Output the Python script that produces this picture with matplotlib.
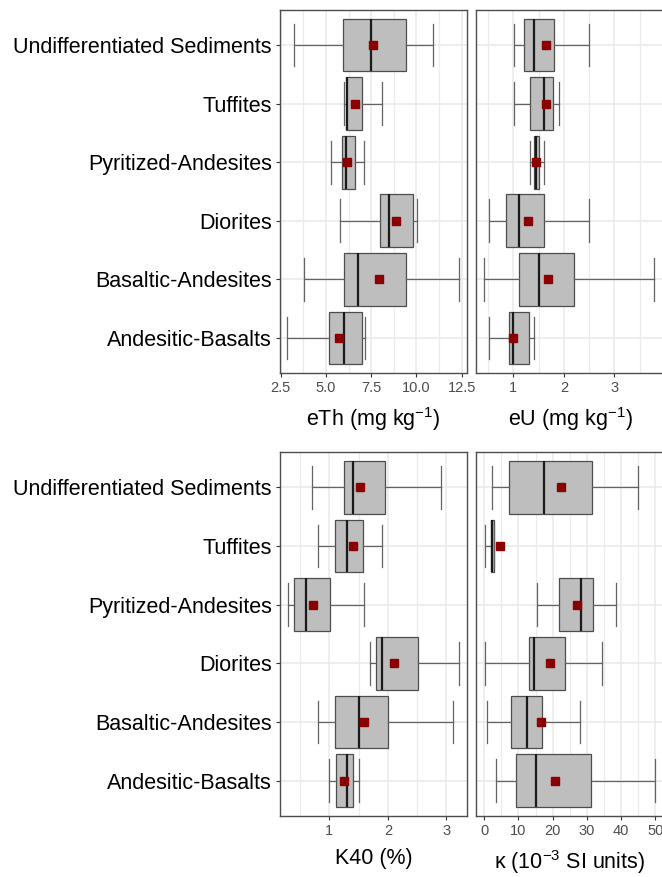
import numpy as np
import matplotlib
matplotlib.use("Agg")
import matplotlib.pyplot as plt

plt.rcParams['font.family'] = ['Liberation Sans', 'DejaVu Sans']
plt.rcParams['mathtext.fontset'] = 'custom'
plt.rcParams['mathtext.rm'] = 'Liberation Sans'
plt.rcParams['mathtext.it'] = 'Liberation Sans:italic'
plt.rcParams['mathtext.default'] = 'regular'

# categories, listed top to bottom as in the picture
categories = ['Undifferentiated Sediments', 'Tuffites', 'Pyritized-Andesites',
              'Diorites', 'Basaltic-Andesites', 'Andesitic-Basalts']

# eTh (mg/kg)
eth_lo   = [3.26, 5.98, 5.28, 5.78, 3.76, 2.87]
eth_q1   = [5.92, 6.11, 5.87, 7.98, 5.98, 5.18]
eth_med  = [7.50, 6.17, 6.09, 8.48, 6.78, 5.99]
eth_mean = [7.59, 6.61, 6.17, 8.87, 7.94, 5.70]
eth_q3   = [9.42, 6.98, 6.61, 9.79, 9.42, 6.98]
eth_hi   = [10.94, 8.09, 7.09, 10.02, 12.35, 7.18]

# eU (mg/kg)
eu_lo   = [1.01, 1.01, 1.32, 0.52, 0.42, 0.51]
eu_q1   = [1.20, 1.33, 1.40, 0.86, 1.11, 0.91]
eu_med  = [1.40, 1.61, 1.44, 1.11, 1.51, 1.00]
eu_mean = [1.65, 1.64, 1.44, 1.28, 1.68, 1.00]
eu_q3   = [1.81, 1.79, 1.51, 1.61, 2.20, 1.30]
eu_hi   = [2.50, 1.90, 1.60, 2.50, 3.79, 1.41]

# K40 (%)
k_lo   = [0.70, 0.80, 0.30, 1.70, 0.80, 1.00]
k_q1   = [1.25, 1.10, 0.40, 1.80, 1.10, 1.11]
k_med  = [1.40, 1.30, 0.60, 1.90, 1.50, 1.30]
k_mean = [1.53, 1.41, 0.72, 2.10, 1.60, 1.26]
k_q3   = [1.95, 1.58, 1.01, 2.51, 2.01, 1.40]
k_hi   = [2.91, 1.90, 1.60, 3.21, 3.11, 1.50]

# magnetic susceptibility (10^-3 SI)
ms_lo   = [2.35, 0.1, 15.3, 0.1, 0.7, 3.4]
ms_q1   = [7.3, 1.9, 21.9, 13.0, 7.9, 9.4]
ms_med  = [17.6, 2.35, 28.2, 14.4, 12.5, 15.2]
ms_mean = [22.3, 4.6, 27.1, 19.2, 16.7, 20.8]
ms_q3   = [31.6, 2.9, 31.9, 23.6, 16.8, 31.2]
ms_hi   = [44.8, 3.0, 38.6, 34.4, 28.0, 50.0]

W, H = 662, 877
fig = plt.figure(figsize=(W / 100, H / 100), dpi=100)


def panel(x0, x1, y0, y1):
    return fig.add_axes([x0 / W, 1 - y1 / H, (x1 - x0) / W, (y1 - y0) / H])


def draw(ax, lo, q1, med, mean, q3, hi, xlim, majors, minors, xlabel, ticklabels, show_y):
    n = len(categories)
    pos = np.arange(n, 0, -1)
    stats = []
    for i in range(n):
        stats.append(dict(whislo=lo[i], q1=q1[i], med=med[i], mean=mean[i],
                          q3=q3[i], whishi=hi[i], fliers=[]))
    ax.bxp(stats, positions=pos, vert=False, widths=0.9, capwidths=0.73,
           patch_artist=True, showmeans=True, manage_ticks=False,
           boxprops=dict(facecolor='#bebebe', edgecolor='#4d4d4d', linewidth=0.9),
           whiskerprops=dict(color='#636363', linewidth=0.9),
           capprops=dict(color='#636363', linewidth=0.9),
           medianprops=dict(color='#1a1a1a', linewidth=1.6),
           meanprops=dict(marker='s', markerfacecolor='#8b0000',
                          markeredgecolor='#8b0000', markersize=5.6),
           zorder=3)
    ax.set_xlim(*xlim)
    ax.set_ylim(0.4, n + 0.6)
    ax.set_xticks(majors)
    ax.set_xticklabels(ticklabels)
    ax.set_xticks(minors, minor=True)
    ax.set_yticks(pos)
    ax.grid(which='major', color='#ebebeb', linewidth=1.2, zorder=0)
    ax.grid(which='minor', axis='x', color='#ebebeb', linewidth=0.9, zorder=0)
    ax.set_axisbelow(True)
    ax.tick_params(which='minor', length=0)
    ax.tick_params(which='major', direction='out', length=3, width=0.8,
                   color='#333333', labelcolor='#4d4d4d', labelsize=10.5, pad=3)
    if show_y:
        ax.set_yticklabels(categories, fontsize=15.5, color='black')
    else:
        ax.tick_params(axis='y', left=False, labelleft=False)
    for s in ax.spines.values():
        s.set_color('#4d4d4d')
        s.set_linewidth(1.0)
    ax.set_xlabel(xlabel, fontsize=15.5, labelpad=7)


ax1 = panel(280, 467, 10, 373)
draw(ax1, eth_lo, eth_q1, eth_med, eth_mean, eth_q3, eth_hi,
     (2.46, 12.8), [2.5, 5.0, 7.5, 10.0, 12.5], [3.75, 6.25, 8.75, 11.25],
     'eTh (mg kg$^{-1}$)', ['2.5', '5.0', '7.5', '10.0', '12.5'], True)

ax2 = panel(476, 664, 10, 373)
draw(ax2, eu_lo, eu_q1, eu_med, eu_mean, eu_q3, eu_hi,
     (0.26, 3.98), [1, 2, 3], [0.5, 1.5, 2.5, 3.5],
     'eU (mg kg$^{-1}$)', ['1', '2', '3'], False)

ax3 = panel(280, 467, 452, 816)
draw(ax3, k_lo, k_q1, k_med, k_mean, k_q3, k_hi,
     (0.16, 3.35), [1, 2, 3], [0.5, 1.5, 2.5],
     'K40 (%)', ['1', '2', '3'], True)

ax4 = panel(476, 664, 452, 816)
draw(ax4, ms_lo, ms_q1, ms_med, ms_mean, ms_q3, ms_hi,
     (-2.4, 52.5), [0, 10, 20, 30, 40, 50], [5, 15, 25, 35, 45],
     'κ (10$^{-3}$ SI units)', ['0', '10', '20', '30', '40', '50'], False)

fig.savefig('out.png', dpi=100, facecolor='white')
